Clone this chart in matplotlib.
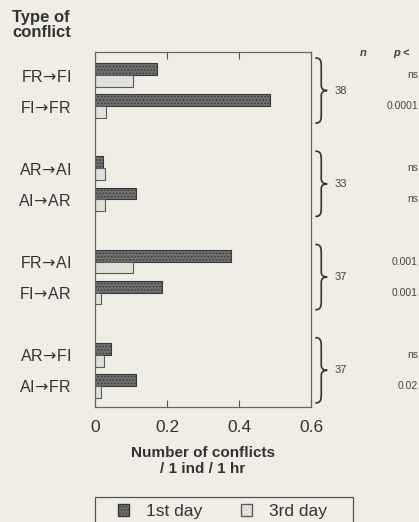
import matplotlib
matplotlib.use("Agg")
import matplotlib.pyplot as plt
from matplotlib.path import Path
from matplotlib.patches import PathPatch, Patch, Rectangle
import matplotlib.transforms as mtransforms
import numpy as np

plt.rcParams['font.family'] = ['Liberation Sans', 'DejaVu Sans']
plt.rcParams['mathtext.fontset'] = 'dejavusans'
plt.rcParams['hatch.linewidth'] = 0.6

categories = ["FR→FI", "FI→FR", "AR→AI", "AI→AR", "FR→AI", "FI→AR", "AR→FI", "AI→FR"]
day1 = [0.172, 0.486, 0.023, 0.114, 0.377, 0.187, 0.044, 0.113]
day3 = [0.106, 0.030, 0.028, 0.028, 0.105, 0.017, 0.025, 0.017]
n_values = ["38", "33", "37", "37"]
p_values = ["ns", "0.0001", "ns", "ns", "0.001", "0.001", "ns", "0.02"]
xticks = [0, 0.2, 0.4, 0.6]
xtick_labels = ["0", "0.2", "0.4", "0.6"]
legend_labels = ["1st day", "3rd day"]

BG = "#f0ede5"
W, H = 419, 522
fig = plt.figure(figsize=(W / 100, H / 100), dpi=100, facecolor=BG)
ax = fig.add_axes([95 / W, 1 - 407 / H, 216 / W, 355 / H], facecolor=BG)

pos = np.array([0, 1, 3, 4, 6, 7, 9, 10], dtype=float)
bh = 0.38
ax.barh(pos - bh / 2, day1, height=bh, color="#6e6e6e", edgecolor="#383838",
        hatch=".....", linewidth=0.8, label=legend_labels[0])
ax.barh(pos + bh / 2, day3, height=bh, color="#e2e0da", edgecolor="#5a5a5a",
        linewidth=0.8, label=legend_labels[1])

ax.set_xlim(0, 0.6)
ax.set_ylim(10.68, -0.74)
ax.set_xticks(xticks)
ax.set_xticklabels(xtick_labels, fontsize=12.5, color="#333333")
ax.tick_params(axis="x", direction="in", length=5, width=0.8, top=True,
               pad=9, colors="#555555", labelcolor="#333333")
ax.set_yticks(pos)
ax.set_yticklabels([c.replace("→", r"$\!\rightarrow\!$") for c in categories],
                   fontsize=11.5, color="#333333")
ax.tick_params(axis="y", length=0, pad=17)
for s in ax.spines.values():
    s.set_color("#666666")
    s.set_linewidth(0.9)

ax.set_xlabel("Number of conflicts\n/ 1 ind / 1 hr", fontsize=11, fontweight="bold",
              color="#333333", labelpad=8, linespacing=1.2)

fig.text(12 / W, 1 - 10 / H, "Type of\nconflict", fontsize=12, fontweight="bold",
         color="#333333", ha="left", va="top", linespacing=1.0)

trans = mtransforms.blended_transform_factory(ax.transAxes, ax.transData)


def brace(x0, depth, y0, y1):
    ym = (y0 + y1) / 2
    h = (y1 - y0)
    d = depth
    verts = [
        (x0, y0),
        (x0 + d * 0.5, y0), (x0 + d * 0.5, y0 + 0.06 * h), (x0 + d * 0.5, y0 + 0.15 * h),
        (x0 + d * 0.5, ym - 0.08 * h),
        (x0 + d * 0.5, ym - 0.01 * h), (x0 + d * 0.8, ym), (x0 + d, ym),
        (x0 + d * 0.8, ym), (x0 + d * 0.5, ym + 0.01 * h), (x0 + d * 0.5, ym + 0.08 * h),
        (x0 + d * 0.5, y1 - 0.15 * h),
        (x0 + d * 0.5, y1 - 0.06 * h), (x0 + d * 0.5, y1), (x0, y1),
    ]
    codes = [Path.MOVETO,
             Path.CURVE4, Path.CURVE4, Path.CURVE4,
             Path.LINETO,
             Path.CURVE4, Path.CURVE4, Path.CURVE4,
             Path.CURVE4, Path.CURVE4, Path.CURVE4,
             Path.LINETO,
             Path.CURVE4, Path.CURVE4, Path.CURVE4]
    p = PathPatch(Path(verts, codes), transform=trans, fill=False,
                  edgecolor="#333333", linewidth=1.2, clip_on=False)
    ax.add_patch(p)


groups = [(0, 1), (3, 4), (6, 7), (9, 10)]
for (a, b), nv in zip(groups, n_values):
    brace(1.02, 0.055, a - 0.55, b + 0.55)
    ax.text(1.139, (a + b) / 2, nv, transform=trans, fontsize=8, color="#444444",
            ha="center", va="center")

for y, pv in zip(pos, p_values):
    ax.text(1.495, y, pv, transform=trans, fontsize=7.5, color="#444444",
            ha="right", va="center")

ax.text(1.24, -0.71, "n", transform=trans, fontsize=8, fontweight="bold",
        fontstyle="italic", color="#444444", ha="center", va="center")
ax.text(1.42, -0.71, "p <", transform=trans, fontsize=8, fontweight="bold",
        fontstyle="italic", color="#444444", ha="center", va="center")

# legend frame
fig.add_artist(Rectangle((95 / W, -0.05), 258 / W, (1 - 497 / H) + 0.05,
                         transform=fig.transFigure, facecolor=BG,
                         edgecolor="#555555", linewidth=0.9))
handles = [Patch(facecolor="#6e6e6e", edgecolor="#383838", hatch="....."),
           Patch(facecolor="#e2e0da", edgecolor="#5a5a5a")]
top = 1 - 497 / H
leg = fig.legend(handles, legend_labels, loc="upper left",
                 bbox_to_anchor=(111 / W, top),
                 ncol=2, fontsize=12.5, frameon=False,
                 handlelength=0.65, handleheight=0.65, handletextpad=0.95,
                 columnspacing=2.25, borderpad=0.4, borderaxespad=0)
for t in leg.get_texts():
    t.set_color("#333333")

fig.savefig("out.png", dpi=100, facecolor=BG)
